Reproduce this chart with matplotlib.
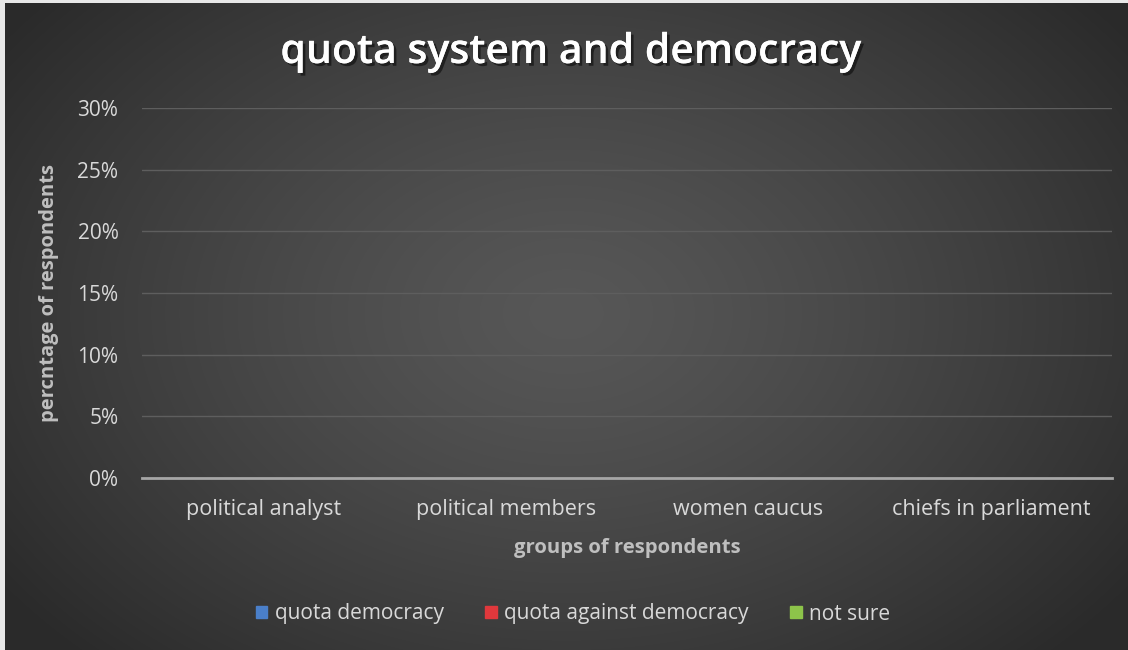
import numpy as np
import matplotlib
matplotlib.use("Agg")
import matplotlib.pyplot as plt
from matplotlib.patches import Patch
import matplotlib.patheffects as pe
from matplotlib.ticker import PercentFormatter

categories = ["political analyst", "political members", "women caucus", "chiefs in parliament"]
series_names = ["quota democracy", "quota against democracy", "not sure"]
quota_democracy = [0, 0, 0, 0]
quota_against = [0, 0, 0, 0]
not_sure = [0, 0, 0, 0]
series_colors = ["#4a7fc9", "#e0383c", "#8dc44a"]
yticks = [0, 0.05, 0.10, 0.15, 0.20, 0.25, 0.30]

plt.rcParams['font.family'] = ['Open Sans', 'DejaVu Sans']

fig = plt.figure(figsize=(11.28, 6.5), dpi=100, facecolor="#e8e8e8")

# background radial gradient
bg = fig.add_axes([5/1128, 0, 1 - 5/1128, 1 - 3/650])
bg.set_axis_off()
W, H = 1123, 647
xx, yy = np.meshgrid(np.linspace(0, 1, W), np.linspace(0, 1, H))
cx, cy = 0.5, 0.48
r = np.sqrt(((xx - cx) / 0.62) ** 2 + ((yy - cy) / 0.75) ** 2)
r = np.clip(r, 0, 1)
c0, c1 = 0x57 / 255, 0x2a / 255
val = c0 + (c1 - c0) * r ** 1.3
img = np.dstack([val, val, val])
bg.imshow(img, aspect="auto", extent=[0, 1, 0, 1], origin="upper")
bg.set_xlim(0, 1); bg.set_ylim(0, 1)

ax = fig.add_axes([142/1128, 1 - 478/650, (1112 - 142)/1128, (478 - 108)/650])
ax.patch.set_alpha(0)

x = np.arange(len(categories))
w = 0.22
for i, (vals, name) in enumerate(zip([quota_democracy, quota_against, not_sure], series_names)):
    ax.bar(x + (i - 1) * w, vals, w, color=series_colors[i], label=name, zorder=3)

ax.set_ylim(0, 0.30)
ax.set_xlim(-0.5, len(categories) - 0.5)
ax.set_yticks(yticks)
ax.yaxis.set_major_formatter(PercentFormatter(1.0, decimals=0))
ax.set_xticks(x)
ax.set_xticklabels(categories)
ax.tick_params(axis='both', length=0, colors="#d9d9d9")
ax.tick_params(axis='y', labelsize=15, pad=17)
ax.tick_params(axis='x', labelsize=15.5, pad=15)
for s in ["top", "right", "left"]:
    ax.spines[s].set_visible(False)
ax.spines["bottom"].set_color("#a6a6a6")
ax.spines["bottom"].set_linewidth(2)
ax.grid(axis='y', color="#5e5e5e", linewidth=1)
ax.set_axisbelow(True)

ax.set_xlabel("groups of respondents", color="#bfbfbf", fontsize=14.6, fontweight="bold", labelpad=13)
ax.set_ylabel("percntage of respondents", color="#bfbfbf", fontsize=14.5, fontweight="bold", labelpad=13)

fig.text(0.506, 1 - 52/650, "quota system and democracy", ha="center", va="center",
         color="white", fontsize=29.5, fontweight="semibold",
         path_effects=[pe.withSimplePatchShadow(offset=(2, -2), shadow_rgbFace="black", alpha=0.5), pe.Normal()])

handles = [Patch(color=c, label=n) for c, n in zip(series_colors, series_names)]
leg = fig.legend(handles=handles, loc="center", bbox_to_anchor=(0.508, 1 - 614/650), ncol=3,
                 frameon=False, fontsize=15, handlelength=0.55, handleheight=0.55,
                 handletextpad=0.35, columnspacing=2.0)
for t in leg.get_texts():
    t.set_color("#d9d9d9")

fig.savefig("out.png", dpi=100, facecolor=fig.get_facecolor())
